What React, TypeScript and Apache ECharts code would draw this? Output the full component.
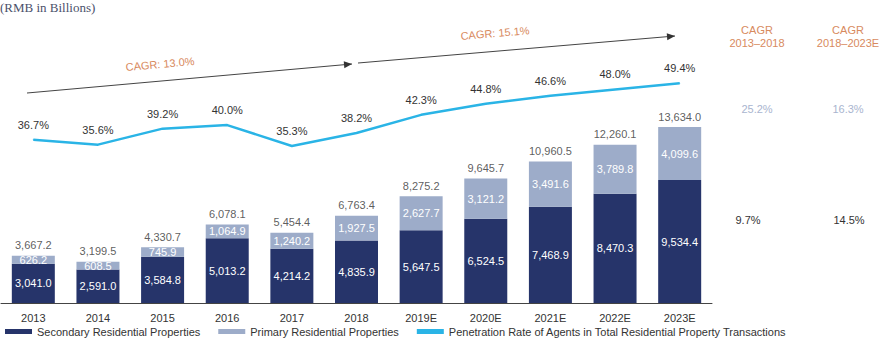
import React, { useEffect, useRef } from "react";
import * as echarts from "echarts";

const categories = ["2013", "2014", "2015", "2016", "2017", "2018", "2019E", "2020E", "2021E", "2022E", "2023E"];
const secondary = [3041.0, 2591.0, 3584.8, 5013.2, 4214.2, 4835.9, 5647.5, 6524.5, 7468.9, 8470.3, 9534.4];
const primary = [626.2, 608.5, 745.9, 1064.9, 1240.2, 1927.5, 2627.7, 3121.2, 3491.6, 3789.8, 4099.6];
const totals = [3667.2, 3199.5, 4330.7, 6078.1, 5454.4, 6763.4, 8275.2, 9645.7, 10960.5, 12260.1, 13634.0];
const penetration = [36.7, 35.6, 39.2, 40.0, 35.3, 38.2, 42.3, 44.8, 46.6, 48.0, 49.4];

const FONT = "'Liberation Sans', Arial, sans-serif";
const DARK = "#26346a";
const LIGHT = "#9dacc9";
const LINE = "#2ab4e6";
const ORANGE = "#d88a5e";

const fmt = (v: number) =>
  v.toLocaleString("en-US", { minimumFractionDigits: 1, maximumFractionDigits: 1 });

export default function App() {
  const ref = useRef<HTMLDivElement>(null);
  useEffect(() => {
    if (!ref.current) return;
    const chart = echarts.init(ref.current, null, { renderer: "svg" });
    const arrowHead = (x: number, y: number, angle: number) => {
      const c = Math.cos(angle), s = Math.sin(angle);
      const L = 8, W = 3.5;
      const pts = [
        [x, y],
        [x - L * c + W * s, y - L * s - W * c],
        [x - L * c - W * s, y - L * s + W * c],
      ];
      return { type: "polygon", shape: { points: pts }, style: { fill: "#333" }, silent: true };
    };
    const a1 = Math.atan2(64 - 93, 352 - 27);
    const a2 = Math.atan2(36 - 63, 675 - 358);
    chart.setOption({
      animation: false,
      textStyle: { fontFamily: FONT },
      grid: { left: 1, right: 167, top: 45, bottom: 40, containLabel: false },
      legend: {
        left: 0,
        bottom: 1,
        itemGap: 18,
        itemWidth: 27,
        itemHeight: 5,
        textStyle: { fontSize: 11, color: "#333", fontFamily: FONT },
        data: [
          { name: "Secondary Residential Properties", icon: "rect" },
          { name: "Primary Residential Properties", icon: "rect" },
          { name: "Penetration Rate of Agents in Total Residential Property Transactions", icon: "rect", itemStyle: { color: LINE } },
        ],
      },
      xAxis: {
        type: "category",
        data: categories,
        axisLine: { lineStyle: { color: "#444", width: 1 } },
        axisTick: { show: false },
        axisLabel: { fontSize: 11, color: "#333", margin: 9, fontFamily: FONT },
      },
      yAxis: [
        { type: "value", min: 0, max: 20000, show: false, splitLine: { show: false } },
        { type: "value", min: 0, max: 58, show: false, splitLine: { show: false } },
      ],
      series: [
        {
          name: "Secondary Residential Properties",
          type: "bar",
          stack: "t",
          barWidth: 43,
          data: secondary,
          itemStyle: { color: DARK },
          label: { show: true, position: "inside", color: "#fff", fontSize: 11, formatter: (p: any) => fmt(p.value) },
        },
        {
          name: "Primary Residential Properties",
          type: "bar",
          stack: "t",
          barWidth: 43,
          data: primary,
          itemStyle: { color: LIGHT },
          label: { show: true, position: "inside", color: "#fff", fontSize: 11, formatter: (p: any) => fmt(p.value) },
        },
        {
          name: "totals",
          type: "scatter",
          data: totals,
          symbolSize: 0,
          itemStyle: { color: "transparent" },
          label: { show: true, position: "top", distance: 5, color: "#333", fontSize: 11, formatter: (p: any) => fmt(p.value) },
          silent: true,
        },
        {
          name: "Penetration Rate of Agents in Total Residential Property Transactions",
          type: "line",
          yAxisIndex: 1,
          data: penetration,
          symbol: "circle",
          symbolSize: 1,
          showSymbol: true,
          lineStyle: { color: LINE, width: 2.5 },
          itemStyle: { color: LINE },
          label: { show: true, position: "top", distance: 9, color: "#333", fontSize: 11, formatter: (p: any) => p.value.toFixed(1) + "%" },
        },
      ],
      graphic: [
        { type: "text", left: 0, top: 1, style: { text: "(RMB in Billions)", font: "13px 'Liberation Serif', 'Times New Roman', serif", fill: "#4b516b" } },
        { type: "line", shape: { x1: 27, y1: 93, x2: 352, y2: 64 }, style: { stroke: "#444", lineWidth: 1 }, silent: true },
        arrowHead(352, 64, a1),
        { type: "line", shape: { x1: 358, y1: 63, x2: 675, y2: 36 }, style: { stroke: "#444", lineWidth: 1 }, silent: true },
        arrowHead(675, 36, a2),
        { type: "text", x: 160, y: 64, rotation: -a1, style: { text: "CAGR: 13.0%", fill: ORANGE, font: "11px " + FONT, align: "center", verticalAlign: "middle" } },
        { type: "text", x: 495, y: 33, rotation: -a2, style: { text: "CAGR: 15.1%", fill: ORANGE, font: "11px " + FONT, align: "center", verticalAlign: "middle" } },
        { type: "text", x: 757, y: 36, style: { text: "CAGR\n2013–2018", fill: ORANGE, font: "11px " + FONT, align: "center", verticalAlign: "middle", lineHeight: 13 } },
        { type: "text", x: 848, y: 36, style: { text: "CAGR\n2018–2023E", fill: ORANGE, font: "11px " + FONT, align: "center", verticalAlign: "middle", lineHeight: 13 } },
        { type: "text", x: 757, y: 109, style: { text: "25.2%", fill: "#a9b5cf", font: "11px " + FONT, align: "center", verticalAlign: "middle" } },
        { type: "text", x: 848, y: 109, style: { text: "16.3%", fill: "#a9b5cf", font: "11px " + FONT, align: "center", verticalAlign: "middle" } },
        { type: "text", x: 748, y: 220, style: { text: "9.7%", fill: "#333", font: "11px " + FONT, align: "center", verticalAlign: "middle" } },
        { type: "text", x: 849, y: 220, style: { text: "14.5%", fill: "#333", font: "11px " + FONT, align: "center", verticalAlign: "middle" } },
      ],
    });
    return () => chart.dispose();
  }, []);
  return <div ref={ref} style={{ position: "fixed", left: 0, top: 0, width: 879, height: 343, background: "#fff" }} />;
}
